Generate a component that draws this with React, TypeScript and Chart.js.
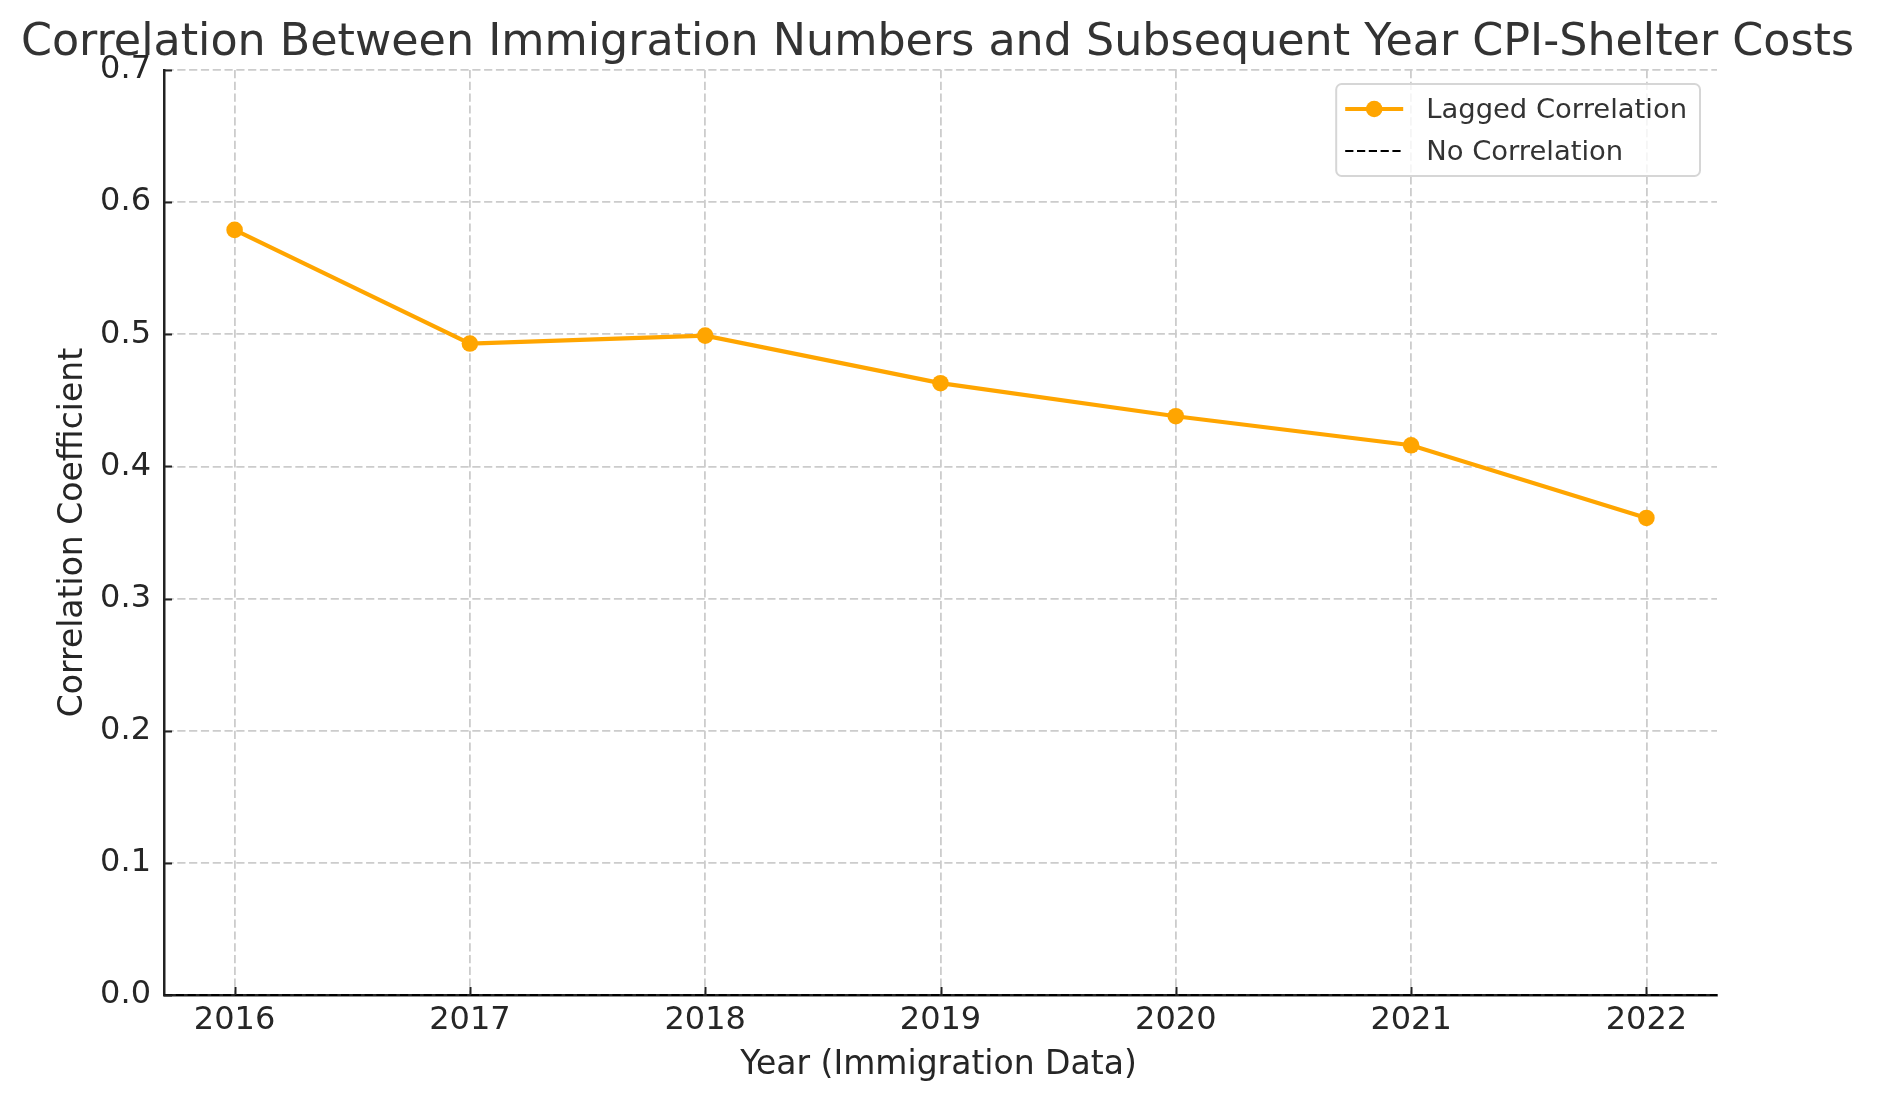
import React, { useEffect, useRef } from 'react';
import { Chart, registerables } from 'chart.js';

Chart.register(...registerables);

const years = [2016, 2017, 2018, 2019, 2020, 2021, 2022];
const laggedCorrelation = [0.579, 0.493, 0.499, 0.463, 0.438, 0.416, 0.361];
const noCorrelationValue = 0;
const xLimits = [2015.7, 2022.3];
const yLimits = [0, 0.7];
const yTickStep = 0.1;
const xTickStep = 1;
const titleText = 'Correlation Between Immigration Numbers and Subsequent Year CPI-Shelter Costs';
const xAxisLabel = 'Year (Immigration Data)';
const yAxisLabel = 'Correlation Coefficient';
const legendLabels = ['Lagged Correlation', 'No Correlation'];

const FONT = '"DejaVu Sans", "Liberation Sans", sans-serif';
const ORANGE = '#FFA500';
const GRID = '#cccccc';
const AXIS = '#222222';
const DASH = [8.2, 3.6];

const decorPlugin = {
  id: 'decor',
  afterDraw(chart: any) {
    const { ctx, chartArea: ca, scales } = chart;
    const xs = scales.x;
    const ys = scales.y;
    ctx.save();

    // inward tick marks
    ctx.setLineDash([]);
    ctx.strokeStyle = AXIS;
    ctx.lineWidth = 2;
    ys.ticks.forEach((t: any) => {
      const py = Math.round(ys.getPixelForValue(t.value)) + 0.5;
      ctx.beginPath();
      ctx.moveTo(ca.left, py);
      ctx.lineTo(ca.left + 8, py);
      ctx.stroke();
    });
    xs.ticks.forEach((t: any) => {
      const px = Math.round(xs.getPixelForValue(t.value)) + 0.5;
      ctx.beginPath();
      ctx.moveTo(px, ca.bottom);
      ctx.lineTo(px, ca.bottom - 8);
      ctx.stroke();
    });

    const cx = (ca.left + ca.right) / 2;
    const cy = (ca.top + ca.bottom) / 2;

    // title
    ctx.fillStyle = '#333333';
    ctx.font = `44.4px ${FONT}`;
    ctx.textAlign = 'center';
    ctx.textBaseline = 'alphabetic';
    ctx.fillText(titleText, cx - 3, 55);

    // x axis label
    ctx.fillStyle = '#262626';
    ctx.font = `33px ${FONT}`;
    ctx.fillText(xAxisLabel, cx - 2, 1074);

    // y axis label
    ctx.save();
    ctx.translate(82, cy);
    ctx.rotate(-Math.PI / 2);
    ctx.fillText(yAxisLabel, 0, 0);
    ctx.restore();

    // legend
    ctx.font = `27.4px ${FONT}`;
    const textW = Math.max(...legendLabels.map((l) => ctx.measureText(l).width));
    const padL = 9, handleLen = 58, handleGap = 23, padR = 13;
    const boxW = padL + handleLen + handleGap + textW + padR;
    const boxH = 92;
    const bx = ca.right - 17 - boxW;
    const by = ca.top + 14;
    const r = 5.5;
    ctx.beginPath();
    ctx.moveTo(bx + r, by);
    ctx.lineTo(bx + boxW - r, by);
    ctx.arcTo(bx + boxW, by, bx + boxW, by + r, r);
    ctx.lineTo(bx + boxW, by + boxH - r);
    ctx.arcTo(bx + boxW, by + boxH, bx + boxW - r, by + boxH, r);
    ctx.lineTo(bx + r, by + boxH);
    ctx.arcTo(bx, by + boxH, bx, by + boxH - r, r);
    ctx.lineTo(bx, by + r);
    ctx.arcTo(bx, by, bx + r, by, r);
    ctx.closePath();
    ctx.fillStyle = 'rgba(255,255,255,0.8)';
    ctx.fill();
    ctx.strokeStyle = '#d6d6d6';
    ctx.lineWidth = 2;
    ctx.stroke();

    const rows = [by + 25, by + 67];
    const hx0 = bx + padL;
    const hx1 = hx0 + handleLen;
    // row 1: orange line with marker
    ctx.strokeStyle = ORANGE;
    ctx.lineWidth = 4.2;
    ctx.beginPath();
    ctx.moveTo(hx0, rows[0]);
    ctx.lineTo(hx1, rows[0]);
    ctx.stroke();
    ctx.fillStyle = ORANGE;
    ctx.beginPath();
    ctx.arc((hx0 + hx1) / 2, rows[0], 8.3, 0, Math.PI * 2);
    ctx.fill();
    // row 2: dashed black line
    ctx.strokeStyle = '#000000';
    ctx.lineWidth = 2.2;
    ctx.setLineDash(DASH);
    ctx.beginPath();
    ctx.moveTo(hx0, rows[1]);
    ctx.lineTo(hx1, rows[1]);
    ctx.stroke();
    ctx.setLineDash([]);

    ctx.fillStyle = '#333333';
    ctx.textAlign = 'left';
    ctx.textBaseline = 'middle';
    legendLabels.forEach((l, i) => {
      ctx.fillText(l, hx1 + handleGap, rows[i] + 1.5);
    });

    ctx.restore();
  },
};

export default function App() {
  const canvasRef = useRef<HTMLCanvasElement | null>(null);

  useEffect(() => {
    document.body.style.margin = '0';
    document.body.style.overflow = 'hidden';
    const canvas = canvasRef.current;
    if (!canvas) return;

    const chart = new Chart(canvas, {
      type: 'line',
      data: {
        datasets: [
          {
            label: legendLabels[0],
            data: years.map((yr, i) => ({ x: yr, y: laggedCorrelation[i] })),
            borderColor: ORANGE,
            backgroundColor: ORANGE,
            borderWidth: 4.2,
            pointRadius: 8.3,
            pointBorderWidth: 0,
            pointBackgroundColor: ORANGE,
            tension: 0,
            fill: false,
            clip: false as any,
          },
          {
            label: legendLabels[1],
            data: xLimits.map((xv) => ({ x: xv, y: noCorrelationValue })),
            borderColor: '#000000',
            borderWidth: 2.2,
            borderDash: DASH,
            pointRadius: 0,
            tension: 0,
            fill: false,
            clip: false as any,
          },
        ],
      },
      options: {
        responsive: false,
        animation: false,
        events: [],
        layout: { padding: { left: 0, top: 70, right: 1877 - 1717, bottom: 0 } },
        plugins: {
          legend: { display: false },
          title: { display: false },
          tooltip: { enabled: false },
        },
        scales: {
          x: {
            type: 'linear',
            min: xLimits[0],
            max: xLimits[1],
            afterFit: (s: any) => {
              s.height = 1101 - 995;
            },
            ticks: {
              stepSize: xTickStep,
              includeBounds: false,
              autoSkip: false,
              maxRotation: 0,
              padding: 6,
              color: '#262626',
              font: { family: FONT, size: 32 },
              callback: (v: any) => String(v),
            },
            grid: {
              color: GRID,
              lineWidth: 1.8,
              drawTicks: false,
            },
            border: { display: true, color: AXIS, width: 2.5, dash: DASH },
          },
          y: {
            type: 'linear',
            min: yLimits[0],
            max: yLimits[1],
            afterFit: (s: any) => {
              s.width = 164;
            },
            ticks: {
              stepSize: yTickStep,
              padding: 13,
              color: '#262626',
              font: { family: FONT, size: 32 },
              callback: (v: any) => Number(v).toFixed(1),
            },
            grid: {
              color: (c: any) => (c.tick && Math.abs(c.tick.value) < 1e-9 ? 'rgba(0,0,0,0)' : GRID),
              lineWidth: 1.8,
              drawTicks: false,
            },
            border: { display: true, color: AXIS, width: 2.5, dash: DASH },
          },
        },
      },
      plugins: [decorPlugin],
    });

    return () => {
      chart.destroy();
    };
  }, []);

  return (
    <div style={{ width: 1877, height: 1101, background: '#ffffff' }}>
      <canvas ref={canvasRef} width={1877} height={1101} style={{ display: 'block' }} />
    </div>
  );
}
